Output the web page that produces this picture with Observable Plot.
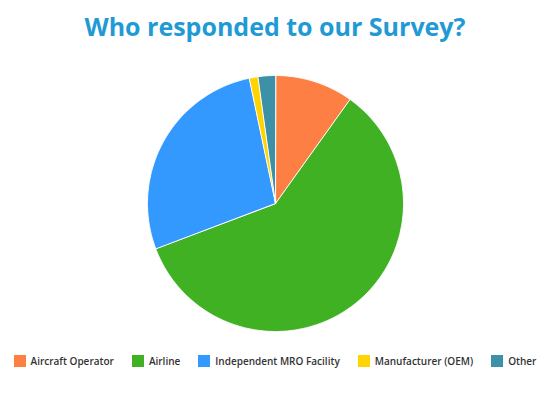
<!DOCTYPE html>
<html>
<head>
<meta charset="utf-8">
<script src="https://cdn.jsdelivr.net/npm/d3@7"></script>
<script src="https://cdn.jsdelivr.net/npm/@observablehq/plot@0.6"></script>
<style>
  html, body { margin: 0; padding: 0; background: #fff; }
  #root { width: 550px; }
  #title { height: 50px; line-height: 52px; text-align: center; font-family: "Open Sans", sans-serif; font-weight: 700; font-size: 25px; color: #1f9ad5; }
  #chart svg { display: block; }
  #legend div.lg-swatches { font-family: "Open Sans", sans-serif !important; font-size: 10px !important; font-weight: 600; color: #333; margin: 0 !important; width: 550px; }
  #legend div.lg-swatches-wrap { display: flex !important; justify-content: center; align-items: center; min-height: 22px !important; height: 22px; flex-wrap: nowrap !important; gap: 18px; }
  #legend div.lg-swatches-wrap span.lg-swatch { margin-right: 0 !important; white-space: nowrap; flex: 0 0 auto; }
  #legend span.lg-swatch > svg { margin-right: 5px !important; flex: 0 0 auto; }
</style>
</head>
<body>
<div id="root">
  <div id="title">Who responded to our Survey?</div>
  <div id="chart"></div>
  <div id="legend"></div>
</div>
<script>
const categories = ["Aircraft Operator", "Airline", "Independent MRO Facility", "Manufacturer (OEM)", "Other"];
const counts = [9, 54, 25, 1, 2];
const colors = ["#fd7f43", "#41b124", "#3399fe", "#ffd400", "#3c91a6"];

const arcs = d3.pie().sort(null).value(d => d)(counts);
const step = Math.PI / 360;
const features = arcs.map((a, i) => {
  const angles = [a.startAngle];
  for (let t = Math.ceil(a.startAngle / step) * step; t < a.endAngle; t += step) if (t > a.startAngle) angles.push(t);
  angles.push(a.endAngle);
  const ring = [[0, 0], ...angles.map(t => [Math.sin(t), -Math.cos(t)]), [0, 0]];
  return {type: "Feature", properties: {category: categories[i], value: counts[i]}, geometry: {type: "Polygon", coordinates: [ring]}};
});
const pie = {type: "FeatureCollection", features};

const chart = Plot.plot({
  width: 550,
  height: 300,
  marginLeft: 147,
  marginRight: 147,
  marginTop: 25,
  marginBottom: 19,
  projection: {type: "identity", domain: pie, inset: 0},
  color: {domain: categories, range: colors},
  marks: [
    Plot.geo(features, {fill: d => d.properties.category, stroke: "white", strokeWidth: 1})
  ]
});
document.getElementById("chart").appendChild(chart);

const legend = Plot.legend({
  color: {domain: categories, range: colors},
  legend: "swatches",
  swatchSize: 12,
  className: "lg"
});
document.getElementById("legend").appendChild(legend);
</script>
</body>
</html>
